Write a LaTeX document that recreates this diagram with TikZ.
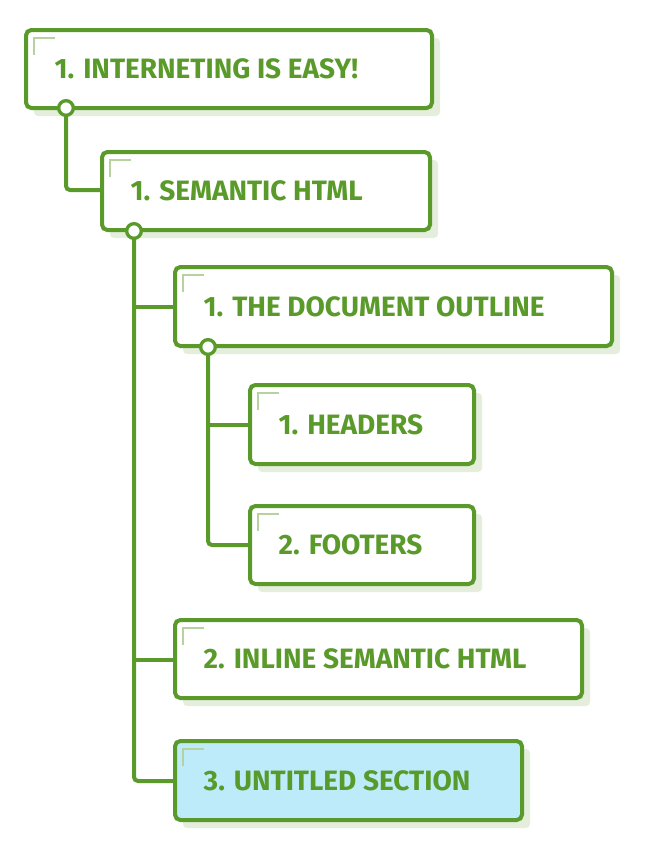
\documentclass[tikz,border=0pt]{standalone}
\usepackage{fontspec}
\setmainfont{Fira Sans}
\definecolor{leaf}{HTML}{5A9A2A}
\definecolor{leafshade}{HTML}{E5EEDC}
\definecolor{sky}{HTML}{BDEBFA}
\tikzset{
  secbox/.style={draw=leaf, line width=3pt, fill=#1},
  secbox/.default=white,
  label/.style={text=leaf, font=\bfseries\fontsize{21}{21}\selectfont, anchor=west},
  stem/.style={draw=leaf, line width=3pt},
  knob/.style={circle, draw=leaf, line width=2.5pt, fill=white, inner sep=0pt, minimum size=11pt}
}
\newcommand{\sectionbox}[6]{% name, x1, y1, x2, y2, text
  \fill[leafshade, rounded corners=3pt] (#2+8,#3+8) rectangle (#4+8,#5+8);
  \draw[secbox=\boxfill, rounded corners=4pt] (#2,#3) rectangle (#4,#5);
  \draw[leaf!45, line width=1.2pt] (#2+8,#3+25) -- (#2+8,#3+8) -- (#2+29,#3+8);
  \coordinate (#1) at (#2,#3/2+#5/2);
  \node[label] (#1-t) at (#2+24,#3/2+#5/2) {#6};
}
\newcommand{\boxfill}{white}
\begin{document}
\begin{tikzpicture}[x=0.75pt,y=-0.75pt]
  \useasboundingbox (0,0) rectangle (646,854);
  % connectors first
  \coordinate (k1) at (66,108);
  \coordinate (k2) at (134,231);
  \coordinate (k3) at (208,347);
  \draw[stem, rounded corners=3pt] (k1) |- (102,190);
  \draw[stem, rounded corners=3pt] (k2) |- (175,781);
  \draw[stem] (134,307) -- (175,307);
  \draw[stem] (134,660) -- (175,660);
  \draw[stem, rounded corners=3pt] (k3) |- (250,545);
  \draw[stem] (208,425) -- (250,425);
  % boxes
  \sectionbox{s1}{26}{30}{432}{108}{1. INTERNETING IS EASY!}
  \sectionbox{s2}{102}{152}{430}{230}{1. SEMANTIC HTML}
  \sectionbox{s3}{175}{267}{612}{346}{1. THE DOCUMENT OUTLINE}
  \sectionbox{s4}{250}{385}{474}{464}{1. HEADERS}
  \sectionbox{s5}{250}{506}{474}{584}{2. FOOTERS}
  \sectionbox{s6}{175}{620}{582}{698}{2. INLINE SEMANTIC HTML}
  \renewcommand{\boxfill}{sky}
  \sectionbox{s7}{175}{741}{522}{820}{3. UNTITLED SECTION}
  % knobs
  \node[knob] at (k1) {};
  \node[knob] at (k2) {};
  \node[knob] at (k3) {};
\end{tikzpicture}
\end{document}
